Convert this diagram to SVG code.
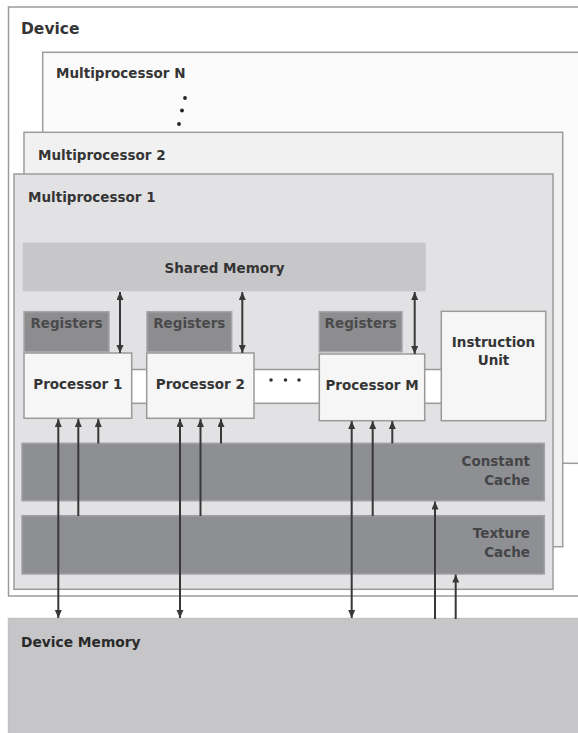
<svg xmlns="http://www.w3.org/2000/svg" width="578" height="733" viewBox="0 0 578 733">
<style>
text{font-family:"DejaVu Sans","Liberation Sans",sans-serif;font-weight:bold;font-size:13.5px;fill:#353535}
.box{stroke:#9c9c9c;stroke-width:1.5}
.reg{fill:#8d8d8f;stroke:#a6a6a8;stroke-width:1.5}
.regt{fill:#4a4a4c;text-anchor:middle}
.proc{fill:#f6f6f6;stroke:#9a9a9a;stroke-width:1.5}
.cache{fill:#8e8f92;stroke:#a2a2a4;stroke-width:1.5}
.cachet{fill:#454547;text-anchor:end}
.mid{text-anchor:middle}
.ar{stroke:#383838;stroke-width:2;fill:none}
</style>
<defs>
<marker id="ah" markerUnits="userSpaceOnUse" markerWidth="9" markerHeight="8" refX="8" refY="3.5" orient="auto-start-reverse">
<path d="M0,0 L8,3.5 L0,7 z" fill="#383838"/>
</marker>
</defs>
<g id="device">
<rect class="box" x="8.5" y="7" width="600" height="589" fill="#ffffff"/>
<text x="21" y="34" style="font-size:15.5px">Device</text>
</g>
<g id="multiprocessor-n">
<rect class="box" x="42.7" y="52.3" width="560" height="411" fill="#fbfbfb"/>
<text x="56" y="77.5">Multiprocessor N</text>
<circle cx="185" cy="98" r="1.9" fill="#222"/>
<circle cx="182" cy="110.5" r="1.9" fill="#222"/>
<circle cx="179" cy="124" r="1.9" fill="#222"/>
</g>
<g id="multiprocessor-2">
<rect class="box" x="24" y="132.3" width="538.7" height="414.4" fill="#f1f1f2"/>
<text x="38" y="160">Multiprocessor 2</text>
</g>
<g id="multiprocessor-1">
<rect class="box" x="14" y="174" width="539" height="415.3" fill="#e2e2e4"/>
<text x="28" y="201.5">Multiprocessor 1</text>
</g>
<g id="shared-memory">
<rect x="22.7" y="242.7" width="403" height="48.6" fill="#c7c7c9"/>
<text class="mid" x="224.5" y="273">Shared Memory</text>
</g>
<g id="processor-band">
<rect x="131" y="369.5" width="311" height="33.8" fill="#ffffff" stroke="#9a9a9a" stroke-width="1.5"/>
<circle cx="271" cy="380" r="1.8" fill="#333"/>
<circle cx="285.5" cy="380" r="1.8" fill="#333"/>
<circle cx="299" cy="380" r="1.8" fill="#333"/>
</g>
<g id="registers-1">
<rect class="reg" x="24" y="311.7" width="85" height="40"/>
<text class="regt" x="66.5" y="328">Registers</text>
</g>
<g id="registers-2">
<rect class="reg" x="147" y="311.7" width="84.7" height="40"/>
<text class="regt" x="189.3" y="328">Registers</text>
</g>
<g id="registers-m">
<rect class="reg" x="319.3" y="311.7" width="82.7" height="40"/>
<text class="regt" x="360.7" y="328">Registers</text>
</g>
<g id="processor-1">
<rect class="proc" x="24" y="353" width="107.7" height="65.3"/>
<text class="mid" x="77.8" y="389">Processor 1</text>
</g>
<g id="processor-2">
<rect class="proc" x="146.7" y="353" width="107.3" height="65.3"/>
<text class="mid" x="200.3" y="389">Processor 2</text>
</g>
<g id="processor-m">
<rect class="proc" x="319.3" y="354" width="105.4" height="66.7"/>
<text class="mid" x="372" y="389.5">Processor M</text>
</g>
<g id="instruction-unit">
<rect class="proc" x="441.3" y="311.3" width="104.4" height="109.4" fill="#f9f9f9"/>
<text class="mid" x="493.5" y="346.5">Instruction</text>
<text class="mid" x="493.5" y="365">Unit</text>
</g>
<g id="constant-cache">
<rect class="cache" x="22" y="443.3" width="522.3" height="57.4"/>
<text class="cachet" x="530" y="465.5">Constant</text>
<text class="cachet" x="530" y="485">Cache</text>
</g>
<g id="texture-cache">
<rect class="cache" x="22" y="515.7" width="522.3" height="58.3"/>
<text class="cachet" x="530" y="537.5">Texture</text>
<text class="cachet" x="530" y="556.5">Cache</text>
</g>
<g id="device-memory">
<rect x="8.3" y="618.3" width="600" height="130" fill="#c6c6c8" stroke="#bdbdbf" stroke-width="1"/>
<text x="21" y="646.5" style="fill:#2a2a2a;font-size:13.8px">Device Memory</text>
</g>
<g id="connectors">
<line class="ar" x1="120" y1="292" x2="120" y2="353" marker-start="url(#ah)" marker-end="url(#ah)"/>
<line class="ar" x1="242.3" y1="292" x2="242.3" y2="353" marker-start="url(#ah)" marker-end="url(#ah)"/>
<line class="ar" x1="414.7" y1="292" x2="414.7" y2="354" marker-start="url(#ah)" marker-end="url(#ah)"/>
<line class="ar" x1="58.3" y1="419" x2="58.3" y2="618" marker-start="url(#ah)" marker-end="url(#ah)"/>
<line class="ar" x1="78.3" y1="419" x2="78.3" y2="516" marker-start="url(#ah)"/>
<line class="ar" x1="98.3" y1="419" x2="98.3" y2="443.5" marker-start="url(#ah)"/>
<line class="ar" x1="180" y1="419" x2="180" y2="618" marker-start="url(#ah)" marker-end="url(#ah)"/>
<line class="ar" x1="200.5" y1="419" x2="200.5" y2="516" marker-start="url(#ah)"/>
<line class="ar" x1="221" y1="419" x2="221" y2="443.5" marker-start="url(#ah)"/>
<line class="ar" x1="351.7" y1="421" x2="351.7" y2="618" marker-start="url(#ah)" marker-end="url(#ah)"/>
<line class="ar" x1="372.7" y1="421" x2="372.7" y2="516" marker-start="url(#ah)"/>
<line class="ar" x1="392.3" y1="421" x2="392.3" y2="443.5" marker-start="url(#ah)"/>
<line class="ar" x1="435" y1="619" x2="435" y2="501.5" marker-end="url(#ah)"/>
<line class="ar" x1="455.7" y1="619" x2="455.7" y2="574.5" marker-end="url(#ah)"/>
</g>
</svg>
